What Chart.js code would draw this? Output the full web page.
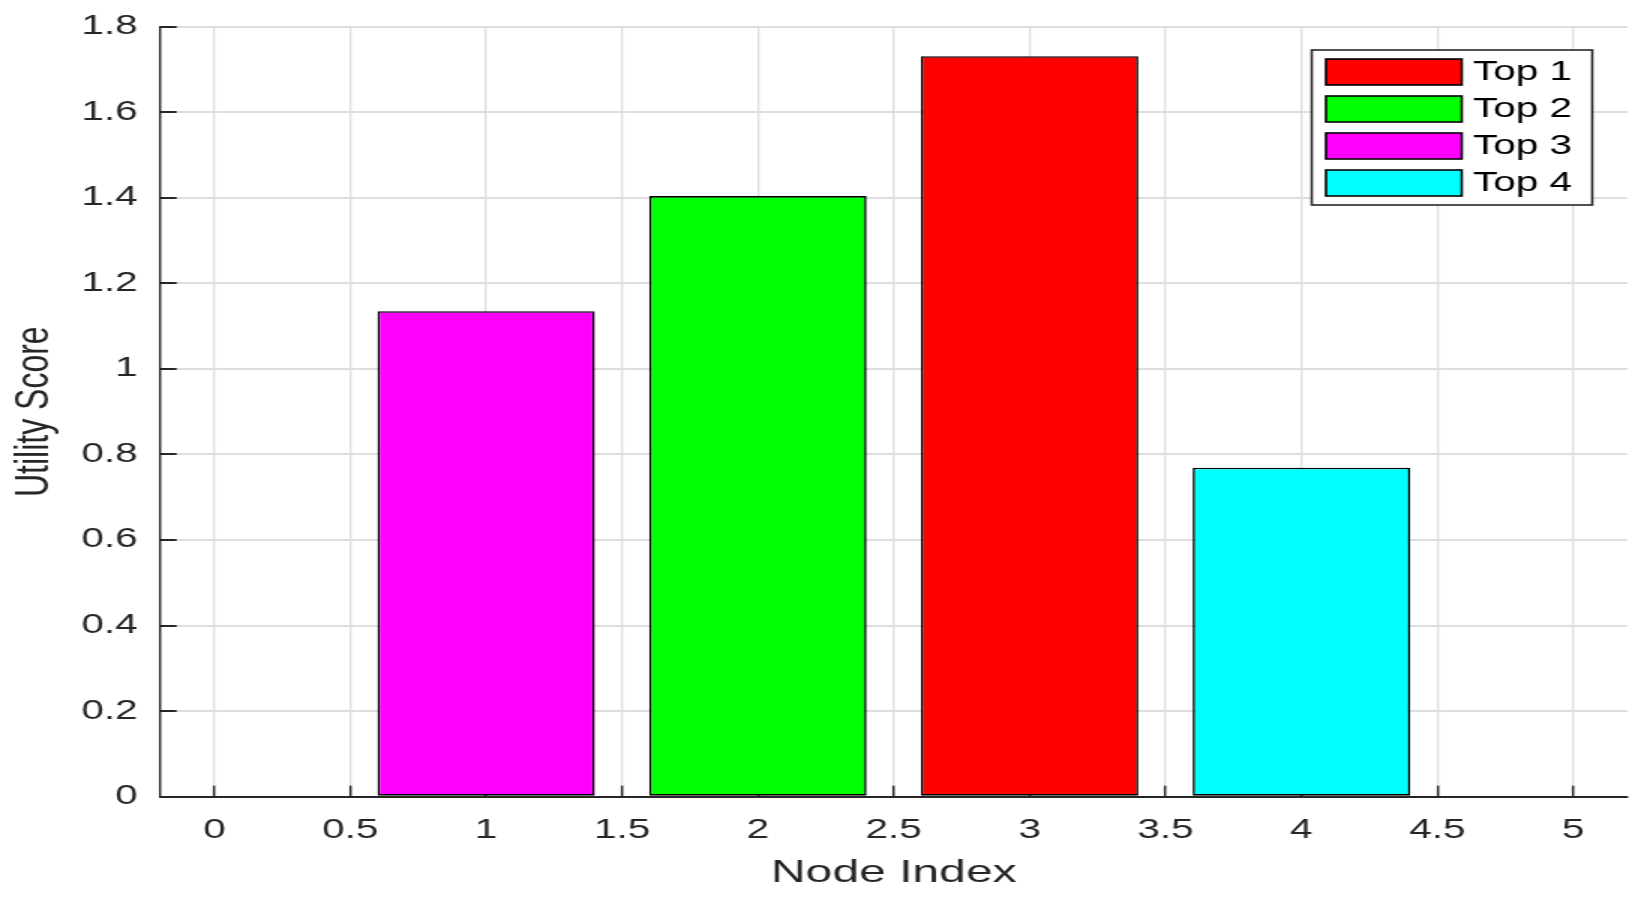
<!DOCTYPE html>
<html>
<head>
<meta charset="utf-8">
<title>Utility Score by Node Index</title>
<script src="https://cdn.jsdelivr.net/npm/chart.js@4/dist/chart.umd.min.js"></script>
<style>
  html, body { margin: 0; padding: 0; background: #fff; }
  /* the source figure is stretched 1.5x horizontally, so draw at 1094 wide and stretch */
  #chart { display: block; width: 1641px !important; height: 904px !important; }
</style>
</head>
<body>
<canvas id="chart" width="1094" height="904"></canvas>
<script>
// ── Data ─────────────────────────────────────────────────────────────────────

const seriesLabels = ['Top 1', 'Top 2', 'Top 3', 'Top 4'];
const nodeIndex    = [3, 2, 1, 4];
const utilityScore = [1.731, 1.404, 1.135, 0.769];
const barColors    = ['#ff0000', '#00ff00', '#ff00ff', '#00ffff'];

const xRange = [-0.2, 5.2];
const yRange = [0, 1.8];
const xStep  = 0.5;
const yStep  = 0.2;

// ── Style ────────────────────────────────────────────────────────────────────

const FONT      = "'Liberation Sans', Arial, Helvetica, sans-serif";
const AXIS_INK  = '#262626';
const GRID_INK  = '#dedede';

const tickText = v => String(+v.toFixed(2));   // 1 not 1.0

// legend drawn inside the plot, top-right, with a box round it
const boxLegend = {
  id: 'boxLegend',
  afterDraw(chart) {
    const { ctx, chartArea } = chart;
    const ds = chart.data.datasets;
    const boxW = 187, rowH = 37, padTop = 9, padLeft = 9.5;
    const swW = 90.5, swH = 26;
    const boxH = padTop * 2 + rowH * ds.length - (rowH - swH);
    const x0 = chartArea.right - 23.5 - boxW;
    const y0 = chartArea.top + 23.3;

    ctx.save();
    ctx.fillStyle = '#fff';
    ctx.fillRect(x0, y0, boxW, boxH);
    ctx.lineWidth = 1.6;
    ctx.strokeStyle = AXIS_INK;
    ctx.strokeRect(x0, y0, boxW, boxH);

    ctx.font = `27px ${FONT}`;
    ctx.textBaseline = 'middle';
    ctx.textAlign = 'left';
    ds.forEach((d, i) => {
      const sy = y0 + padTop + i * rowH;
      ctx.fillStyle = d.backgroundColor;
      ctx.fillRect(x0 + padLeft, sy, swW, swH);
      ctx.lineWidth = 1.6;
      ctx.strokeStyle = '#000';
      ctx.strokeRect(x0 + padLeft, sy, swW, swH);
      ctx.fillStyle = '#000';
      ctx.fillText(d.label, x0 + padLeft + swW + 7.5, sy + swH / 2 + 1);
    });
    ctx.restore();
  }
};

// ── Chart ────────────────────────────────────────────────────────────────────

const datasets = seriesLabels.map((label, i) => ({
  label,
  data: [{ x: nodeIndex[i], y: utilityScore[i] }],
  backgroundColor: barColors[i],
  borderColor: '#000',
  borderWidth: 1.6,
  borderSkipped: false,
}));

new Chart(document.getElementById('chart'), {
  type: 'bar',
  data: { datasets },
  plugins: [boxLegend],
  options: {
    responsive: false,
    animation: false,
    devicePixelRatio: 1,
    grouped: false,
    categoryPercentage: 1,
    barPercentage: 1.6,   // ruler is the 0.5 tick spacing -> 0.8 wide bars
    layout: { padding: { top: 26.7, right: 9, bottom: 0, left: 0 } },
    plugins: {
      legend: { display: false },
      tooltip: { enabled: false },
    },
    scales: {
      x: {
        type: 'linear',
        min: xRange[0],
        max: xRange[1],
        offset: false,
        afterFit: s => { s.height = 107.3; },
        grid: {
          offset: false,
          color: GRID_INK,
          lineWidth: 1.33,
          tickColor: AXIS_INK,
          tickWidth: 1.5,
          tickLength: -11,
        },
        border: { color: AXIS_INK, width: 2 },
        ticks: {
          stepSize: xStep,
          includeBounds: false,
          padding: 29,
          color: AXIS_INK,
          font: { family: FONT, size: 27 },
          callback: tickText,
        },
        title: {
          display: true,
          text: 'Node Index',
          color: AXIS_INK,
          font: { family: FONT, size: 32 },
          padding: { top: 0, bottom: 11.4 },
        },
      },
      y: {
        min: yRange[0],
        max: yRange[1],
        // fixed width; tick padding would otherwise push the plot top down
        afterFit: s => { s.width = 106.7; s.paddingTop = 16; s.paddingBottom = 16; },
        grid: {
          color: GRID_INK,
          lineWidth: 2,
          tickColor: AXIS_INK,
          tickWidth: 2,
          tickLength: -11,
        },
        border: { color: AXIS_INK, width: 1.4 },
        ticks: {
          stepSize: yStep,
          padding: 26,
          color: AXIS_INK,
          font: { family: FONT, size: 27 },
          callback: tickText,
        },
        title: {
          display: true,
          text: 'Utility Score',
          color: AXIS_INK,
          font: { family: FONT, size: 32 },
          padding: { top: 4, bottom: 0 },
        },
      },
    },
  },
});
</script>
</body>
</html>
